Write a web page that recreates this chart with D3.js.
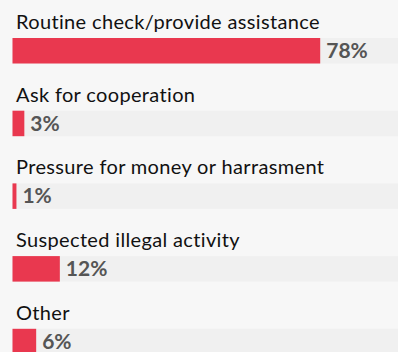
<!DOCTYPE html>
<html><head><meta charset="utf-8">
<script src="https://cdn.jsdelivr.net/npm/d3@7"></script>
<style>
html,body{margin:0;padding:0;background:#f7f7f7;}
svg{display:block;}
</style></head>
<body>
<script>
const categories = ["Routine check/provide assistance","Ask for cooperation","Pressure for money or harrasment","Suspected illegal activity","Other"];
const values = [78, 3, 1, 12, 6];
const valueLabels = ["78%","3%","1%","12%","6%"];

const W = 398, H = 352;
const svg = d3.select("body").append("svg").attr("width", W).attr("height", H);
svg.append("rect").attr("width", W).attr("height", H).attr("fill", "#f7f7f7");

const x = d3.scaleLinear().domain([0, 100]).range([12.5, 407]);
const y = d3.scaleBand().domain(categories).range([38 - 47, 38 - 47 + 72.7 * 5]).paddingInner(0).paddingOuter(0);
const barH = 25.5;
const offset = 47; // bar top within band

const g = svg.selectAll("g.row").data(categories).join("g").attr("class","row")
  .attr("transform", d => `translate(0,${y(d)})`);

g.append("rect").attr("x", x(0)).attr("y", offset).attr("width", W - x(0)).attr("height", barH).attr("fill", "#f0f0f0");
g.append("rect").attr("x", x(0)).attr("y", offset).attr("width", (d,i) => x(values[i]) - x(0)).attr("height", barH).attr("fill", "#e9384f");
g.append("text").attr("x", 16).attr("y", offset - 9).text(d => d)
  .attr("font-family", "Lato").attr("font-size", 20).attr("letter-spacing", 0.35).attr("fill", "#111");
g.append("text").attr("x", (d,i) => x(values[i]) + 6).attr("y", offset + 20).text((d,i) => valueLabels[i])
  .attr("font-family", "Lato").attr("font-weight", "bold").attr("font-size", 21).attr("fill", "#555");
</script>
</body></html>
